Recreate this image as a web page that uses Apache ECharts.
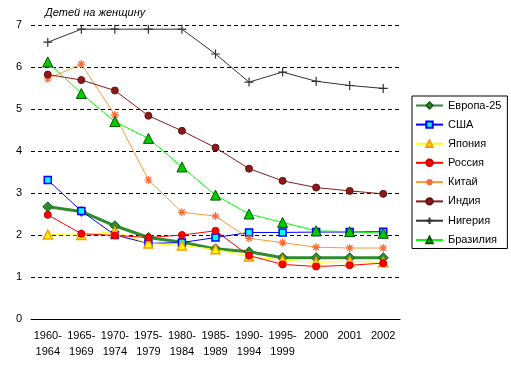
<!DOCTYPE html>
<html><head><meta charset="utf-8">
<script src="https://cdn.jsdelivr.net/npm/echarts@6/dist/echarts.min.js"></script>
<style>html,body{margin:0;padding:0;background:#fff}#c{width:511px;height:376px}</style>
</head><body><div id="c"></div>
<script>
const categories = ['1960-\n1964','1965-\n1969','1970-\n1974','1975-\n1979','1980-\n1984','1985-\n1989','1990-\n1994','1995-\n1999','2000','2001','2002'];
const yTicks = [0,1,2,3,4,5,6,7];
const europe25 = [2.67,2.56,2.22,1.94,1.83,1.67,1.6,1.46,1.46,1.46,1.46];
const usa      = [3.31,2.57,2.0,1.8,1.82,1.94,2.06,2.06,2.07,2.07,2.08];
const japan    = [2.01,2.0,2.08,1.8,1.75,1.66,1.49,1.4,1.35,1.37,1.35];
const russia   = [2.48,2.03,1.99,1.94,2.0,2.1,1.51,1.3,1.25,1.28,1.33];
const china    = [5.72,6.07,4.86,3.31,2.54,2.45,1.92,1.82,1.71,1.69,1.69];
const india    = [5.82,5.69,5.44,4.84,4.48,4.08,3.58,3.29,3.13,3.05,2.98];
const nigeria  = [6.59,6.9,6.9,6.9,6.9,6.31,5.64,5.88,5.66,5.56,5.49];
const brazil   = [6.12,5.37,4.7,4.3,3.62,2.95,2.5,2.3,2.1,2.08,2.04];
const seriesNames = ['Европа-25','США','Япония','Россия','Китай','Индия','Нигерия','Бразилия'];
const titleText = 'Детей на женщину';

const FONT = '"Liberation Sans", Arial, sans-serif';
const plus = 'path://M0,-5L0,5M-5,0L5,0';
const star = 'path://M0,-5L0,5M-5,0L5,0M-3.5,-3.5L3.5,3.5M-3.5,3.5L3.5,-3.5';

function mk(name, data, color, lw, symbol, size, fill, border, bw) {
  return {
    name, type: 'line', data, symbol, symbolSize: size, showSymbol: true,
    lineStyle: { color, width: lw },
    itemStyle: { color: fill, borderColor: border, borderWidth: bw },
    emphasis: { disabled: true }, animation: false
  };
}
const colorsData = [
  [europe25, '#2e8b2e', 3, 'diamond', 10, '#2e8b2e', '#1e5e1e', 1],
  [usa, '#0000ff', 1, 'rect', 7, '#00ffff', '#0000ff', 1.5],
  [japan, '#ffff00', 1, 'triangle', 9, '#ffff00', '#ff9900', 1.5],
  [russia, '#ff0000', 1, 'circle', 7, '#ff0000', '#cc0000', 1],
  [china, '#ff9933', 1, star, 8, 'none', '#ff6633', 1.2],
  [india, '#8b1a1a', 1, 'circle', 7, '#8b1a1a', '#661111', 1],
  [nigeria, '#333333', 1, plus, 9, 'none', '#333333', 1.2],
  [brazil, '#00ff00', 1, 'triangle', 10, '#00cc00', '#005500', 1]
];
const series = colorsData.map((c, i) => mk(seriesNames[i], ...c));

const chart = echarts.init(document.getElementById('c'), null, { renderer: 'canvas' });
chart.setOption({
  animation: false,
  backgroundColor: '#fff',
  title: { text: titleText, left: 40, top: 2, textStyle: { fontFamily: FONT, fontSize: 11, fontStyle: 'italic', fontWeight: 'normal', color: '#000' } },
  grid: { left: 31, right: 111, top: 25, bottom: 57, containLabel: false },
  legend: {
    orient: 'vertical', left: 412, top: 96, data: seriesNames,
    itemWidth: 27, itemHeight: 8, itemGap: 8.1,
    padding: [4, 6, 3, 3],
    borderColor: '#000', borderWidth: 1,
    textStyle: { fontFamily: FONT, fontSize: 11, color: '#000' },
    selectedMode: false
  },
  xAxis: {
    type: 'category', data: categories, boundaryGap: true,
    axisLine: { show: true, lineStyle: { color: '#000', width: 1 } },
    axisTick: { show: false },
    axisLabel: { fontFamily: FONT, fontSize: 11, color: '#000', margin: 9, lineHeight: 16, interval: 0 }
  },
  yAxis: {
    type: 'value', min: yTicks[0], max: yTicks[yTicks.length - 1], interval: 1,
    axisLine: { show: false }, axisTick: { show: false },
    axisLabel: { fontFamily: FONT, fontSize: 11, color: '#000', margin: 9 },
    splitLine: { show: true, lineStyle: { color: '#000', type: [4, 3], width: 1 } }
  },
  series
});
</script></body></html>
